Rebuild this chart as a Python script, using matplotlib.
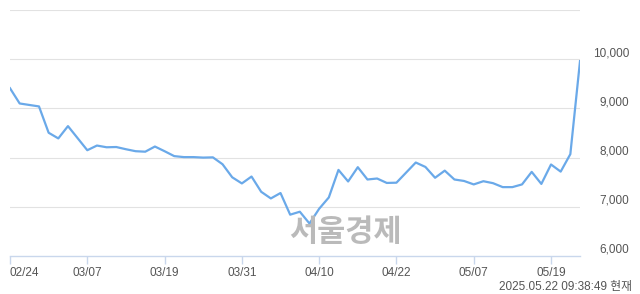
import matplotlib
matplotlib.use('Agg')
import matplotlib.pyplot as plt

# Daily closing prices (KRW), 02/24 .. 05/22
prices = [
    9410, 9100, 9070, 9040, 8505, 8390, 8640, 8395, 8150, 8245,
    8210, 8215, 8170, 8130, 8120, 8225, 8130, 8030, 8010, 8010,
    8000, 8005, 7865, 7600, 7475, 7615, 7305, 7170, 7280, 6840,
    6900, 6660, 6960, 7190, 7750, 7515, 7805, 7555, 7575, 7485,
    7490, 7695, 7900, 7810, 7590, 7735, 7555, 7525, 7455, 7520,
    7480, 7400, 7400, 7455, 7710, 7465, 7860, 7715, 8070, 9960,
]
tick_idx = [0, 8, 16, 24, 32, 40, 48, 56]
tick_labels = ["02/24", "03/07", "03/19", "03/31", "04/10", "04/22", "05/07", "05/19"]
y_labels = [6000, 7000, 8000, 9000, 10000]
grid_levels = [7000, 8000, 9000, 10000, 11000]
stamp = "2025.05.22 09:38:49 현재"
watermark = "서울경제"

W, H = 640, 294
fig = plt.figure(figsize=(W / 100, H / 100), dpi=100, facecolor='white')
ax = fig.add_axes([10 / W, 38 / H, 570 / W, 246 / H])
ax.set_facecolor('white')

font = ['Liberation Sans', 'Noto Sans CJK KR']
label_color = '#555555'
axis_color = '#c9d7ec'

for lv in grid_levels:
    ax.axhline(lv, color='#e2e2e2', linewidth=0.8, zorder=1)

ax.plot(range(len(prices)), prices, color='#6aa9e9', linewidth=1.6, zorder=3,
        solid_joinstyle='round')

ax.set_xlim(0, len(prices) - 1)
ax.set_ylim(6000, 11000)

for side in ['top', 'left', 'right']:
    ax.spines[side].set_visible(False)
ax.spines['bottom'].set_color(axis_color)
ax.spines['bottom'].set_linewidth(1.0)

ax.set_yticks([])
ax.set_xticks(tick_idx)
ax.set_xticklabels(tick_labels, family=font, fontsize=8.5, color=label_color)
ax.tick_params(axis='x', direction='out', length=6, width=1.0, color=axis_color, pad=2)
ax.get_xticklabels()[0].set_horizontalalignment('left')

# y labels on the right, sitting just above each gridline
for v in y_labels:
    ax.annotate(f"{v:,}", xy=(1.0, v), xycoords=('axes fraction', 'data'),
                xytext=(49, 6), textcoords='offset pixels',
                ha='right', va='center', fontsize=8.5, family=font, color=label_color)

fig.text(632 / W, 1 - 287 / H, stamp, ha='right', va='center',
         fontsize=8.5, family=font, color=label_color)

fig.text(345 / W, 1 - 232 / H, watermark, ha='center', va='center',
         fontsize=22, fontweight='heavy', family=['Noto Sans CJK KR'],
         color='#bababa', zorder=5)

fig.savefig('out.png', dpi=100, facecolor=fig.get_facecolor())
plt.close(fig)
